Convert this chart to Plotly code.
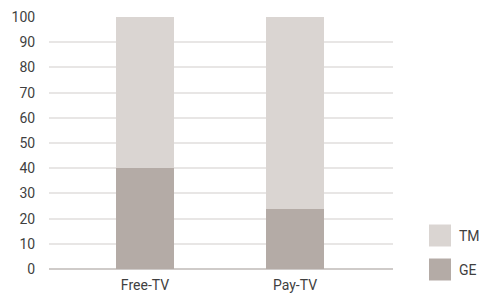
import plotly.graph_objects as go

categories = ["Free-TV", "Pay-TV"]
ge_values = [40, 24]
tm_values = [60, 76]
series_names = ["TM", "GE"]
y_ticks = [0, 10, 20, 30, 40, 50, 60, 70, 80, 90, 100]

TM_COLOR = "#dad5d2"
GE_COLOR = "#b4aba6"
FONT = "Roboto"
TXT = "#3f3f3f"

fig = go.Figure()
fig.add_trace(go.Bar(x=categories, y=ge_values, name="GE", marker_color=GE_COLOR,
                     marker_line_width=0, width=0.39, showlegend=False))
fig.add_trace(go.Bar(x=categories, y=tm_values, name="TM", marker_color=TM_COLOR,
                     marker_line_width=0, width=0.39, showlegend=False))

fig.update_layout(
    barmode="stack",
    width=483, height=299,
    margin=dict(l=49, r=90, t=17, b=30, autoexpand=False),
    paper_bgcolor="white", plot_bgcolor="white",
    font=dict(family=FONT, size=14, color=TXT),
    xaxis=dict(range=[-0.64, 1.653], showgrid=False, showline=False, zeroline=False,
               automargin=False, ticks="outside", ticklen=3, tickcolor="rgba(0,0,0,0)",
               tickfont=dict(size=14, color=TXT)),
    yaxis=dict(range=[0, 100], tickvals=y_ticks, showgrid=True, gridcolor="#e8e6e5",
               gridwidth=1.5, zeroline=True, zerolinecolor="#cfcbc9", zerolinewidth=1.5,
               automargin=False, showline=False, ticks="outside", ticklen=10,
               tickcolor="rgba(0,0,0,0)", tickfont=dict(size=14, color=TXT)),
)

# legend drawn manually with large square swatches
legend_colors = [TM_COLOR, GE_COLOR]
legend_y = [235.5, 269.5]
for name, col, yc in zip(series_names, legend_colors, legend_y):
    fig.add_shape(type="rect", xref="paper", yref="paper",
                  x0=(429 - 49) / 344, x1=(451 - 49) / 344,
                  y0=(299 - 30 - (yc + 11)) / 252, y1=(299 - 30 - (yc - 11)) / 252,
                  fillcolor=col, line_width=0)
    fig.add_annotation(xref="paper", yref="paper", x=(457 - 49) / 344,
                       y=(299 - 30 - yc) / 252, text=name, showarrow=False,
                       xanchor="left", yanchor="middle",
                       font=dict(family=FONT, size=14, color=TXT))

fig.write_html("out.html", config={"displayModeBar": False},
               post_script="document.body.style.margin='0';")
